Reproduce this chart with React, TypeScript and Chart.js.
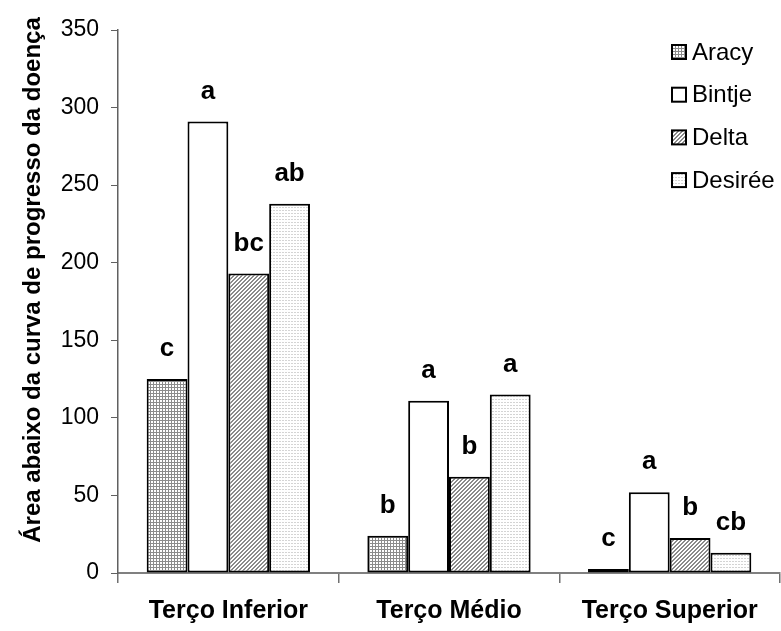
import React, { useEffect, useRef } from "react";
import { Chart, registerables } from "chart.js";

Chart.register(...registerables);

const categories = ["Terço Inferior", "Terço Médio", "Terço Superior"];
const seriesNames = ["Aracy", "Bintje", "Delta", "Desirée"];
const aracyValues = [125, 24, 2.5];
const bintjeValues = [291, 111, 52];
const deltaValues = [193, 62, 22.5];
const desireeValues = [238, 115, 13];
const aracyLetters = ["c", "b", "c"];
const bintjeLetters = ["a", "a", "a"];
const deltaLetters = ["bc", "b", "b"];
const desireeLetters = ["ab", "a", "cb"];
const yTicks = [0, 50, 100, 150, 200, 250, 300, 350];
const yTitle = "Área abaixo da curva de progresso da doença";

const FONT = "'Liberation Sans', Arial, Helvetica, sans-serif";

function makePattern(kind: string): CanvasPattern | string {
  const t = document.createElement("canvas");
  const size = kind === "diag" ? 4 : 3;
  t.width = size;
  t.height = size;
  const c = t.getContext("2d")!;
  c.fillStyle = "#ffffff";
  c.fillRect(0, 0, size, size);
  if (kind === "grid") {
    c.fillStyle = "#8c8c8c";
    c.fillRect(0, 0, size, 1);
    c.fillRect(0, 0, 1, size);
  } else if (kind === "diag") {
    c.fillStyle = "#8a8a8a";
    for (let y = 0; y < size; y++) {
      for (let x = 0; x < size; x++) {
        const d = (x + y) % 4;
        if (d === 0 || d === 1) c.fillRect(x, y, 1, 1);
      }
    }
  } else if (kind === "dots") {
    c.fillStyle = "#d4d4d4";
    c.fillRect(0, 0, 1, 1);
    c.fillRect(1, 0, 1, 1);
  }
  const main = document.createElement("canvas").getContext("2d")!;
  return main.createPattern(t, "repeat") || "#fff";
}

export default function App() {
  const ref = useRef<HTMLCanvasElement>(null);

  useEffect(() => {
    document.body.style.margin = "0";
    document.body.style.overflow = "hidden";
    const canvas = ref.current!;
    const fills = [makePattern("grid"), "#ffffff", makePattern("diag"), makePattern("dots")];
    const values = [aracyValues, bintjeValues, deltaValues, desireeValues];
    const letters = [aracyLetters, bintjeLetters, deltaLetters, desireeLetters];

    const overlay = {
      id: "overlay",
      afterDatasetsDraw(chart: any) {
        const ctx = chart.ctx;
        ctx.save();
        ctx.fillStyle = "#000";
        ctx.font = `bold 26px ${FONT}`;
        ctx.textAlign = "center";
        ctx.textBaseline = "middle";
        chart.data.datasets.forEach((ds: any, i: number) => {
          const meta = chart.getDatasetMeta(i);
          meta.data.forEach((bar: any, j: number) => {
            ctx.fillText(ds.letters[j], bar.x, bar.y - 30);
          });
        });
        ctx.restore();
      },
      afterDraw(chart: any) {
        const ctx = chart.ctx;
        ctx.save();
        // y-axis title
        ctx.translate(33, 280);
        ctx.rotate(-Math.PI / 2);
        ctx.font = `bold 24px ${FONT}`;
        ctx.fillStyle = "#000";
        ctx.textAlign = "center";
        ctx.textBaseline = "middle";
        ctx.fillText(yTitle, 0, 0);
        ctx.restore();
        // legend
        ctx.save();
        chart.data.datasets.forEach((ds: any, i: number) => {
          const y = 52 + i * 42.7;
          ctx.fillStyle = ds.backgroundColor;
          ctx.fillRect(672, y - 7, 14, 14);
          ctx.strokeStyle = "#000";
          ctx.lineWidth = 2;
          ctx.strokeRect(672, y - 7, 14, 14);
          ctx.fillStyle = "#000";
          ctx.font = `24px ${FONT}`;
          ctx.textAlign = "left";
          ctx.textBaseline = "middle";
          ctx.fillText(ds.label, 692, y + 1);
        });
        ctx.restore();
      },
    };

    const chart = new Chart(canvas, {
      type: "bar",
      data: {
        labels: categories,
        datasets: seriesNames.map((name, i) => ({
          label: name,
          data: values[i],
          backgroundColor: fills[i] as any,
          borderColor: "#000",
          borderWidth: 2,
          borderSkipped: false,
          barPercentage: 1,
          categoryPercentage: 0.74,
          letters: letters[i],
        })) as any,
      },
      options: {
        responsive: false,
        animation: false,
        devicePixelRatio: 1,
        layout: { padding: { top: 30, right: 1, left: 0, bottom: 0 } },
        plugins: {
          legend: { display: false },
          tooltip: { enabled: false },
          title: { display: false },
        },
        scales: {
          x: {
            grid: {
              offset: true,
              drawOnChartArea: false,
              drawTicks: true,
              tickLength: 10,
              color: "#707070",
              lineWidth: 1.5,
            },
            border: { color: "#808080", width: 2 },
            ticks: {
              color: "#000",
              font: { family: FONT, size: 25, weight: "bold" },
              padding: 13,
              maxRotation: 0,
            },
            afterFit(scale: any) {
              scale.height = 58;
            },
          },
          y: {
            min: 0,
            max: 350,
            afterBuildTicks(scale: any) {
              scale.ticks = yTicks.map((v) => ({ value: v }));
            },
            grid: {
              drawOnChartArea: false,
              drawTicks: true,
              tickLength: 7,
              color: "#606060",
              lineWidth: 1,
            },
            border: { color: "#606060", width: 1.5 },
            ticks: {
              color: "#000",
              font: { family: FONT, size: 23 },
              padding: 12,
            },
            afterFit(scale: any) {
              scale.width = 118;
            },
          },
        },
      },
      plugins: [overlay],
    });
    return () => chart.destroy();
  }, []);

  return (
    <div style={{ width: 781, height: 631, background: "#fff" }}>
      <canvas ref={ref} width={781} height={631} style={{ display: "block" }} />
    </div>
  );
}
